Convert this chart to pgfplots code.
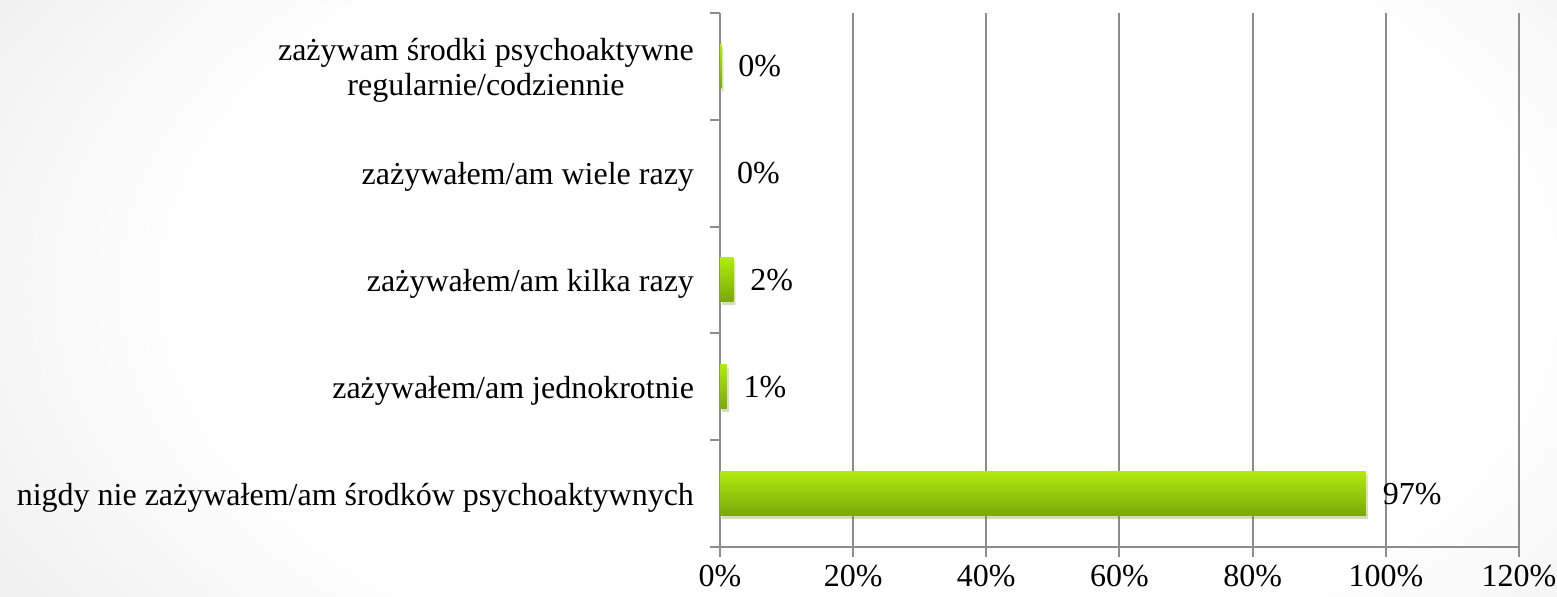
\documentclass[border=0pt]{standalone}
\usepackage{pgfplots}
\pgfplotsset{compat=1.18}
\usepackage{fontspec}
\setmainfont{Liberation Serif}
\usetikzlibrary{shadows}

\definecolor{axgray}{RGB}{140,140,140}
\definecolor{bartop}{RGB}{176,234,14}
\definecolor{barbot}{RGB}{122,168,10}

\pgfdeclareradialshading{tlo}{\pgfpoint{0bp}{0bp}}{color(0bp)=(white); color(17bp)=(white); color(27bp)=(black!7); color(50bp)=(black!8)}

\pgfplotsset{
    zielony/.style={draw=none, top color=bartop, bottom color=barbot, bar shift=0pt,
        drop shadow={shadow xshift=1pt, shadow yshift=-1.5pt, opacity=0.18}},
}

\begin{document}
\fontsize{16}{17.5}\selectfont
\begin{tikzpicture}
% tlo
\begin{scope}
\clip (-360pt,-25pt) rectangle (418.5pt,273.5pt);
\shade[shading=tlo] (-420pt,-160pt) rectangle (560pt,420pt);
\end{scope}
\useasboundingbox (-360pt,-25pt) rectangle (418.5pt,273.5pt);
\begin{axis}[
    at={(0,0)}, anchor=south west,
    scale only axis,
    width=399.5pt, height=267pt,
    xbar,
    bar width=22pt,
    xmin=0, xmax=120,
    ymin=-0.5, ymax=4.5,
    axis lines*=left,
    axis line style={axgray, line width=1pt},
    /pgf/number format/assume math mode=true,
    xtick={0,20,...,120},
    xticklabel={\pgfmathprintnumber{\tick}\%},
    xmajorgrids,
    grid style={axgray, line width=1pt},
    ytick={0,1,2,3,4},
    yticklabels={nigdy nie zażywałem/am środków psychoaktywnych,
        zażywałem/am jednokrotnie,
        zażywałem/am kilka razy,
        zażywałem/am wiele razy,
        {zażywam środki psychoaktywne\\regularnie/codziennie}},
    yticklabel style={align=center, font=\fontsize{16}{17.5}\selectfont, xshift=-2.5pt, yshift=-2pt},
    xticklabel style={font=\fontsize{16}{17.5}\selectfont, yshift=1.5pt},
    minor ytick={-0.5,0.5,...,4.5},
    major tick length=5pt,
    minor tick length=5pt,
    tick align=outside,
    tick style={axgray, line width=1pt},
    major y tick style={draw=none},
    nodes near coords={\pgfmathprintnumber{\pgfplotspointmeta}\%},
    nodes near coords align={horizontal},
    nodes near coords style={font=\fontsize{16}{17.5}\selectfont, xshift=3pt, text=black},
    point meta=explicit,
]
% etykiety: [meta] = procent wyswietlany
\addplot[zielony] coordinates {(97,0) [97]};
\addplot[zielony] coordinates {(1,1) [1]};
\addplot[zielony] coordinates {(2,2) [2]};
\addplot[zielony] coordinates {(0,3) [0]};
\addplot[zielony] coordinates {(0.2,4) [0]};
\end{axis}
\end{tikzpicture}
\end{document}
